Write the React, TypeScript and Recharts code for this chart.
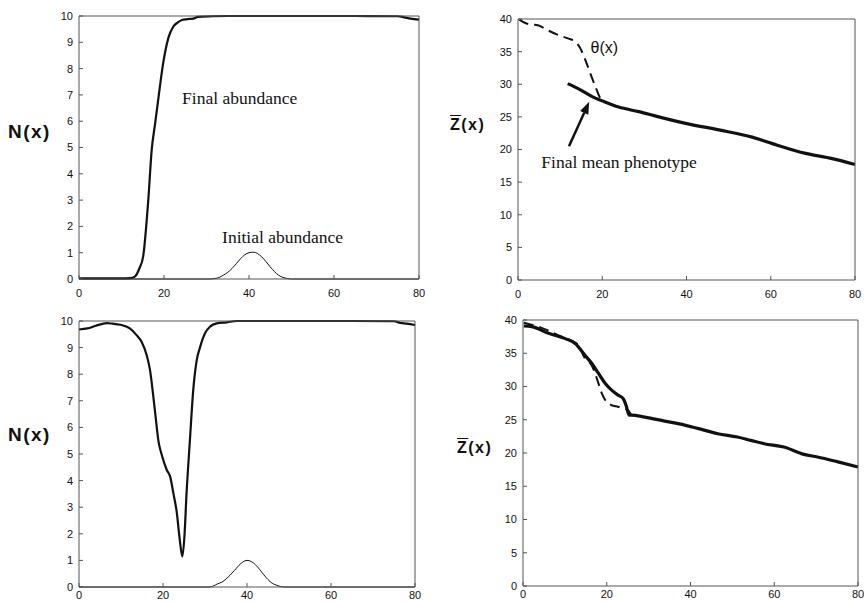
import React from 'react';
import { LineChart, Line, XAxis, YAxis, ReferenceDot, ReferenceLine } from 'recharts';

const xTicks = [0, 20, 40, 60, 80];
const nTicks = [0, 1, 2, 3, 4, 5, 6, 7, 8, 9, 10];
const zTicks = [0, 5, 10, 15, 20, 25, 30, 35, 40];

// top left: abundance
const finalTopX = [0, 5, 10, 12, 13.2, 14.2, 15.1, 16.3, 17.1, 17.9, 18.7, 19.8, 21, 22.2, 23.2, 24.2, 25.5, 26.9, 28, 35, 50, 65, 75, 76.5, 78, 80];
const finalTopY = [0.02, 0.02, 0.02, 0.03, 0.1, 0.4, 0.86, 3.0, 4.9, 5.9, 6.9, 8.2, 9.15, 9.6, 9.75, 9.85, 9.88, 9.9, 9.97, 10, 10, 10, 9.99, 9.95, 9.9, 9.86];
const initTopX = [0, 31, 32, 33, 34, 35, 36, 37, 38, 39, 40, 41, 42, 43, 44, 45, 46, 47, 48, 49, 50, 80];
const initTopY = [0, 0, 0.02, 0.06, 0.15, 0.25, 0.4, 0.58, 0.77, 0.92, 1.0, 1.02, 0.97, 0.84, 0.66, 0.46, 0.28, 0.14, 0.06, 0.02, 0, 0];

// top right: mean phenotype
const thetaTopX = [0.3, 2, 4.9, 7, 9.7, 12, 13.6, 14.8, 16, 17.2, 18.4, 19.6, 20.4];
const thetaTopY = [39.9, 39.3, 39.0, 38.3, 37.5, 37.0, 36.5, 35.5, 33.7, 31.6, 29.6, 27.8, 27.3];
const meanTopX = [11.8, 14.4, 17.6, 20, 23.9, 28.7, 33.4, 39.8, 47.7, 55.6, 60.4, 68.3, 74.6, 80];
const meanTopY = [30.1, 29.3, 28.1, 27.45, 26.5, 25.8, 25.0, 24.0, 23.0, 21.9, 20.9, 19.4, 18.6, 17.7];

// bottom left: abundance
const finalBotX = [0, 2, 4, 6.6, 8, 9.8, 12.1, 13.7, 14.9, 16.1, 16.9, 17.7, 18.5, 18.9, 19.7, 20.9, 21.7, 22.5, 23.3, 23.9, 24.6, 25.1, 25.6, 26.4, 27.2, 28, 28.8, 30, 31.2, 32.8, 35.2, 37.5, 50, 65, 75, 76.5, 78, 80];
const finalBotY = [9.68, 9.72, 9.82, 9.92, 9.9, 9.86, 9.72, 9.47, 9.22, 8.72, 8.16, 7.16, 6.03, 5.5, 4.97, 4.4, 4.15, 3.5, 2.78, 1.9, 1.15, 1.9, 3.5, 5.5, 7.4, 8.5, 9.0, 9.54, 9.79, 9.91, 9.95, 10, 10, 10, 9.99, 9.93, 9.9, 9.85];
const initBotX = [0, 31, 32, 33, 34, 35, 36, 37, 38, 39, 40, 41, 42, 43, 44, 45, 46, 47, 48, 49, 80];
const initBotY = [0, 0, 0.04, 0.12, 0.18, 0.3, 0.45, 0.62, 0.8, 0.94, 1.0, 0.96, 0.84, 0.66, 0.46, 0.28, 0.14, 0.07, 0.02, 0, 0];

// bottom right: mean phenotype
const meanBotX = [0.2, 2.1, 6.1, 10.1, 12.4, 14.8, 16.4, 18, 19.6, 21.1, 22.7, 23.9, 24.7, 25.3, 25.9, 29.1, 33.8, 38.6, 41.7, 46.5, 51.2, 54.4, 57.6, 62.3, 67.1, 70.3, 75, 80];
const meanBotY = [39.1, 39.0, 38.0, 37.2, 36.5, 34.7, 33.5, 32.0, 30.5, 29.5, 28.7, 28.2, 27.0, 25.7, 25.7, 25.4, 24.8, 24.2, 23.7, 22.9, 22.4, 21.9, 21.4, 20.9, 19.8, 19.4, 18.7, 17.9];
const thetaBotX = [0.2, 3.7, 8.5, 12.4, 13.2, 14.8, 16.4, 17.2, 18, 18.8, 19.6, 21.1, 22.7, 23.9, 25, 25.8];
const thetaBotY = [39.6, 39.0, 37.7, 36.6, 36.3, 34.2, 33.2, 32.0, 30.5, 29.0, 28.0, 27.2, 26.95, 26.7, 26.5, 25.8];

const zip = (xs: number[], ys: number[]) => xs.map((x, i) => ({ x, y: ys[i] }));

const ink = '#111';
const axisColor = '#555';
const sans = '"Liberation Sans", Arial, sans-serif';
const serif = '"Liberation Serif", "Times New Roman", serif';

const Arrow = (p: any) => {
  const { x1, y1, x2, y2 } = p;
  const a = Math.atan2(y2 - y1, x2 - x1);
  const len = 12;
  const half = 4.5;
  const bx = x2 - len * Math.cos(a);
  const by = y2 - len * Math.sin(a);
  const pts = [
    [x2, y2],
    [bx - half * Math.sin(a), by + half * Math.cos(a)],
    [bx + half * Math.sin(a), by - half * Math.cos(a)],
  ];
  return (
    <g>
      <line x1={x1} y1={y1} x2={bx} y2={by} stroke={ink} strokeWidth={2.5} />
      <polygon points={pts.map((q) => q.join(',')).join(' ')} fill={ink} />
    </g>
  );
};

type Plot = { l: number; t: number; r: number; b: number };

interface PanelProps {
  left: number;
  top: number;
  height: number;
  plot: Plot;
  yMax: number;
  yTicks: number[];
  xTickMargin?: number;
  children: React.ReactNode;
}

const W = 432;

const Panel: React.FC<PanelProps> = ({ left, top, height, plot, yMax, yTicks, xTickMargin = 14, children }) => {
  const margin = { left: plot.l - 40, right: W - plot.r - 1, top: plot.t - 1, bottom: height - plot.b - 20 };
  return (
    <div style={{ position: 'absolute', left, top, width: W, height }}>
      <LineChart width={W} height={height} margin={margin}>
        <XAxis xAxisId="b" type="number" dataKey="x" domain={[0, 80]} ticks={xTicks} interval={0}
          tickSize={-4} tickMargin={xTickMargin} height={20} stroke={axisColor}
          tick={{ fill: ink, fontSize: 11, fontFamily: sans }} />
        <XAxis xAxisId="t" orientation="top" type="number" dataKey="x" domain={[0, 80]} ticks={xTicks} interval={0}
          tickSize={-4} tick={false} height={1} stroke={axisColor} />
        <YAxis yAxisId="l" type="number" domain={[0, yMax]} ticks={yTicks} interval={0}
          tickSize={-4} tickMargin={10} width={40} stroke={axisColor}
          tick={{ fill: ink, fontSize: 11, fontFamily: sans }} />
        <YAxis yAxisId="r" orientation="right" type="number" domain={[0, yMax]} ticks={yTicks} interval={0}
          tickSize={-4} tick={false} width={1} stroke={axisColor} />
        {children}
      </LineChart>
    </div>
  );
};

const labelStyle = (size: number, family: string) => ({ position: 'center' as const, fontSize: size, fontFamily: family, fill: ink });

export default function App() {
  return (
    <div style={{ position: 'absolute', left: 0, top: 0, width: 864, height: 602, overflow: 'hidden', background: '#fff' }}>
      <Panel left={0} top={0} height={300} plot={{ l: 79, t: 16, r: 419, b: 279 }} yMax={10} yTicks={nTicks}>
        <Line xAxisId="b" yAxisId="l" data={zip(initTopX, initTopY)} dataKey="y" type="monotone" dot={false}
          stroke={ink} strokeWidth={1} isAnimationActive={false} />
        <Line xAxisId="b" yAxisId="l" data={zip(finalTopX, finalTopY)} dataKey="y" type="monotone" dot={false}
          stroke={ink} strokeWidth={2.2} isAnimationActive={false} />
        <ReferenceDot xAxisId="b" yAxisId="l" x={37.8} y={6.9} r={0} fill="none" stroke="none"
          label={{ value: 'Final abundance', ...labelStyle(17.5, serif) }} />
        <ReferenceDot xAxisId="b" yAxisId="l" x={47.9} y={1.6} r={0} fill="none" stroke="none"
          label={{ value: 'Initial abundance', ...labelStyle(17.5, serif) }} />
      </Panel>

      <Panel left={432} top={0} height={300} plot={{ l: 86, t: 19, r: 423, b: 280 }} yMax={40} yTicks={zTicks}>
        <Line xAxisId="b" yAxisId="l" data={zip(thetaTopX, thetaTopY)} dataKey="y" type="monotone" dot={false}
          stroke={ink} strokeWidth={2} strokeDasharray="10 6" isAnimationActive={false} />
        <Line xAxisId="b" yAxisId="l" data={zip(meanTopX, meanTopY)} dataKey="y" type="monotone" dot={false}
          stroke={ink} strokeWidth={3.2} isAnimationActive={false} />
        <ReferenceLine xAxisId="b" yAxisId="l" segment={[{ x: 12.1, y: 20.5 }, { x: 16.9, y: 27.3 }]} shape={Arrow} />
        <ReferenceDot xAxisId="b" yAxisId="l" x={20.5} y={35.7} r={0} fill="none" stroke="none"
          label={{ value: 'θ(x)', ...labelStyle(16, sans) }} />
        <ReferenceDot xAxisId="b" yAxisId="l" x={24.0} y={18.1} r={0} fill="none" stroke="none"
          label={{ value: 'Final mean phenotype', ...labelStyle(17.5, serif) }} />
      </Panel>

      <Panel left={0} top={300} height={330} plot={{ l: 79, t: 21, r: 415, b: 287 }} yMax={10} yTicks={nTicks} xTickMargin={8}>
        <Line xAxisId="b" yAxisId="l" data={zip(initBotX, initBotY)} dataKey="y" type="monotone" dot={false}
          stroke={ink} strokeWidth={1} isAnimationActive={false} />
        <Line xAxisId="b" yAxisId="l" data={zip(finalBotX, finalBotY)} dataKey="y" type="monotone" dot={false}
          stroke={ink} strokeWidth={2.2} isAnimationActive={false} />
      </Panel>

      <Panel left={432} top={300} height={330} plot={{ l: 91, t: 20, r: 426, b: 286 }} yMax={40} yTicks={zTicks} xTickMargin={8}>
        <Line xAxisId="b" yAxisId="l" data={zip(thetaBotX, thetaBotY)} dataKey="y" type="monotone" dot={false}
          stroke={ink} strokeWidth={2} strokeDasharray="10 6" isAnimationActive={false} />
        <Line xAxisId="b" yAxisId="l" data={zip(meanBotX, meanBotY)} dataKey="y" type="monotone" dot={false}
          stroke={ink} strokeWidth={3.2} isAnimationActive={false} />
      </Panel>

      <div style={{ position: 'absolute', left: 8, top: 122, fontFamily: sans, fontWeight: 'bold', fontSize: 19, lineHeight: '20px', letterSpacing: 1.5, color: ink }}>N(x)</div>
      <div style={{ position: 'absolute', left: 8, top: 425, fontFamily: sans, fontWeight: 'bold', fontSize: 19, lineHeight: '20px', letterSpacing: 1.5, color: ink }}>N(x)</div>
      <div style={{ position: 'absolute', left: 450, top: 116, fontFamily: sans, fontWeight: 'bold', fontSize: 16, lineHeight: '18px', letterSpacing: 1.5, color: ink }}>
        <span style={{ textDecoration: 'overline' }}>Z</span>(x)
      </div>
      <div style={{ position: 'absolute', left: 457, top: 439, fontFamily: sans, fontWeight: 'bold', fontSize: 16, lineHeight: '18px', letterSpacing: 1.5, color: ink }}>
        <span style={{ textDecoration: 'overline' }}>Z</span>(x)
      </div>
    </div>
  );
}
